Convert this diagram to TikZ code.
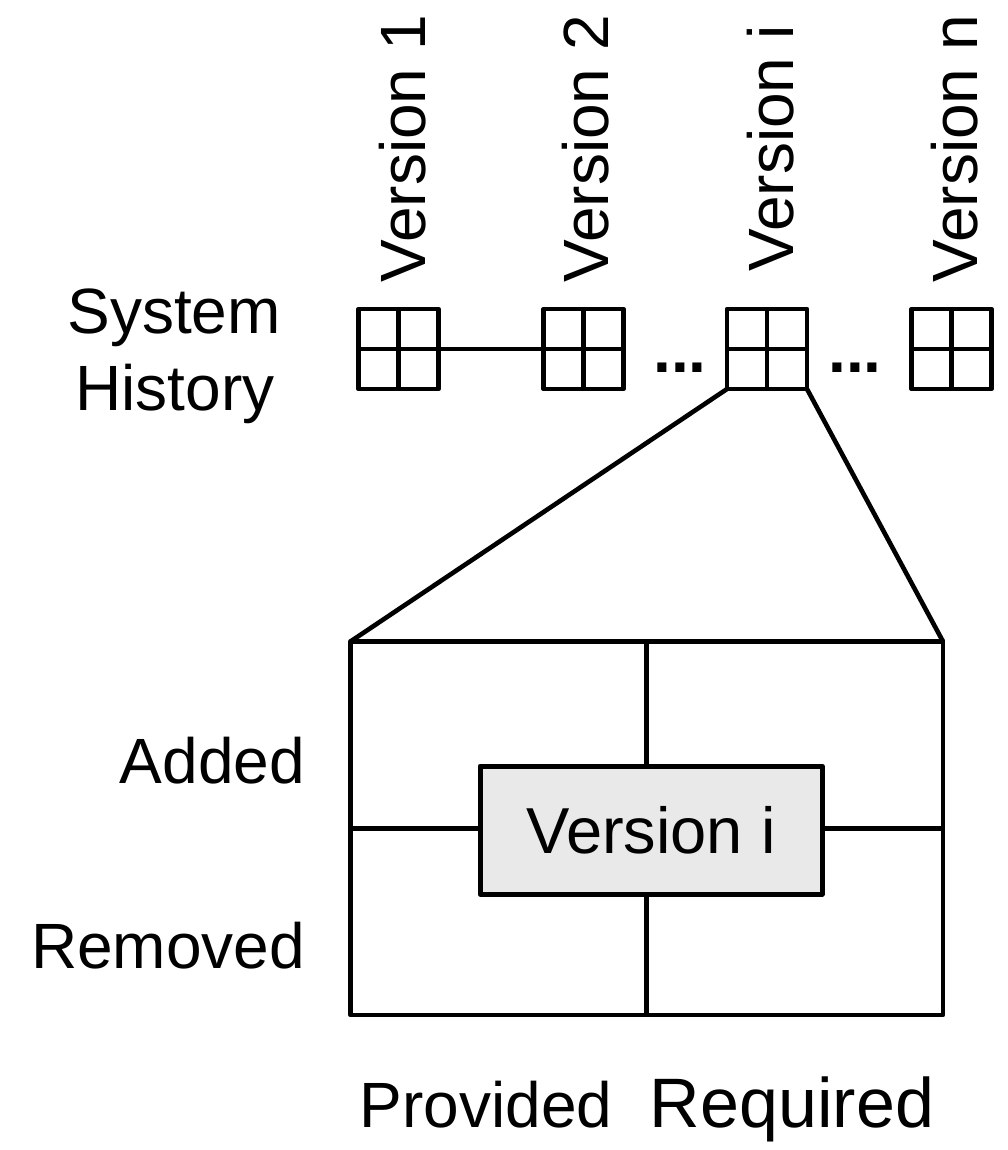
\documentclass[tikz,border=0pt]{standalone}
\usepackage{fontspec}
\setmainfont{Liberation Sans}
\definecolor{boxgray}{RGB}{233,233,233}
\begin{document}
\begin{tikzpicture}[x=1pt, y=-1pt, line width=4.6pt, line join=round,
  lbl/.style={font=\fontsize{64}{77}\selectfont, inner sep=0pt, outer sep=0pt},
  verlbl/.style={lbl, rotate=90, anchor=base west},
  vsquare/.style={draw, minimum size=80pt, inner sep=0pt, outer sep=0pt,
    path picture={\draw[line width=4.6pt]
      (path picture bounding box.north) -- (path picture bounding box.south)
      (path picture bounding box.west) -- (path picture bounding box.east);}},
  dots/.style={lbl, anchor=base, font=\fontsize{64}{77}\selectfont\bfseries},
  frame/.style={draw, inner sep=0pt, outer sep=0pt, minimum width=592.5pt, minimum height=373.5pt},
  core/.style={draw, fill=boxgray, line width=5pt, inner sep=0pt, outer sep=0pt,
    minimum width=342pt, minimum height=128pt, font=\fontsize{65}{78}\selectfont}
]
\useasboundingbox (0,0) rectangle (1008,1150);

% row of versions in the history
\node[vsquare] (sq1) at (398.5,349) {};
\node[vsquare] (sq2) at (583.5,349) {};
\node[vsquare] (sq3) at (767,349) {};
\node[vsquare] (sq4) at (951.5,349) {};
\draw (sq1) -- (sq2);
\node[dots] (d1) at (680,372) {...};
\node[dots] (d2) at (855,372) {...};

% version labels above the squares
\node[verlbl] (v1) at (425,282) {Version 1};
\node[verlbl] (v2) at (608,282) {Version 2};
\node[verlbl] (vi) at (793,271) {Version i};
\node[verlbl] (vn) at (977,282) {Version n};

% row label
\node[lbl, anchor=base] (sys) at (174,333) {System};
\node[lbl, anchor=base] (hist) at (175,410) {History};

% expanded view of one version
\node[frame] (big) at (646.75,828.25) {};
\node[core] (inner) at (651,830) {Version i};
\draw (big.north) -- (big.north |- inner.north);
\draw (big.south) -- (big.south |- inner.south);
\draw (big.west) -- (inner.west |- big.west);
\draw (big.east) -- (inner.east |- big.east);

% zoom lines from the selected version
\draw (sq3.south west) -- (big.north west);
\draw (sq3.south east) -- (big.north east);

% axis labels
\node[lbl, anchor=base east] (added) at (305,783) {Added};
\node[lbl, anchor=base east] (removed) at (305,968) {Removed};
\node[lbl, anchor=base] (prov) at (486,1127) {Provided};
\node[lbl, anchor=base, font=\fontsize{70}{84}\selectfont] (req) at (792,1127) {Required};
\end{tikzpicture}
\end{document}
